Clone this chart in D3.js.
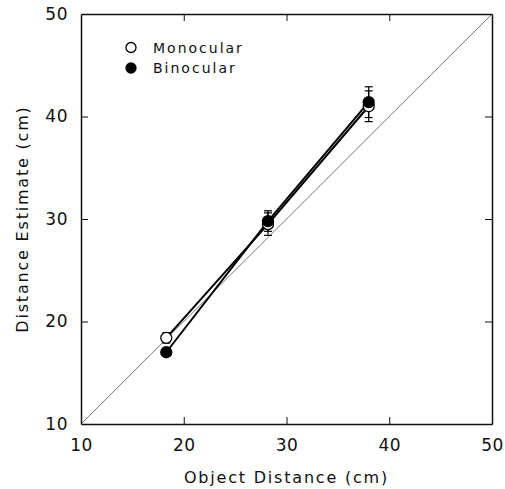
<!DOCTYPE html>
<html>
<head>
<meta charset="utf-8">
<script src="https://cdnjs.cloudflare.com/ajax/libs/d3/7.8.5/d3.min.js"></script>
<style>
  body { margin: 0; background: #fff; }
  text { font-family: "DejaVu Sans", sans-serif; fill: #111; }
</style>
</head>
<body>
<div id="chart"></div>
<script>
// values
var objectDistance = [18.3, 28.2, 38.0];
var monocular = [18.4, 29.5, 41.0];
var monocularErr = [0.5, 1.1, 1.5];
var binocular = [17.0, 29.8, 41.4];
var binocularErr = [0.4, 1.0, 1.5];
var ticks = [10, 20, 30, 40, 50];

var width = 505, height = 489;
var margin = {top: 14, right: 13, bottom: 65, left: 81};

var svg = d3.select('#chart')
  .append('svg')
  .attr('width', width)
  .attr('height', height);

var x = d3.scaleLinear().domain([10, 50]).range([margin.left, width - margin.right]);
var y = d3.scaleLinear().domain([10, 50]).range([height - margin.bottom, margin.top]);

// identity line
svg.append('line')
  .attr('x1', x(10)).attr('y1', y(10))
  .attr('x2', x(50)).attr('y2', y(50))
  .attr('stroke', '#777')
  .attr('stroke-width', 1);

// frame with inward ticks on every side
var tickLen = 7;
var axes = [
  {axis: d3.axisBottom(x), t: 'translate(0,' + y(10) + ')', labels: true, pad: 15},
  {axis: d3.axisTop(x), t: 'translate(0,' + y(50) + ')', labels: false, pad: 12},
  {axis: d3.axisLeft(y), t: 'translate(' + x(10) + ',0)', labels: true, pad: 13},
  {axis: d3.axisRight(y), t: 'translate(' + x(50) + ',0)', labels: false, pad: 12}
];
axes.forEach(function(a) {
  var g = svg.append('g')
    .attr('transform', a.t)
    .call(a.axis.tickValues(ticks).tickSizeInner(-tickLen).tickSizeOuter(0).tickPadding(a.pad));
  g.select('.domain').attr('stroke', '#111').attr('stroke-width', 1.5);
  g.selectAll('.tick line').attr('stroke', '#111').attr('stroke-width', 1);
  g.selectAll('.tick text')
    .style('font-size', '17px')
    .style('font-family', '"DejaVu Sans", sans-serif')
    .style('letter-spacing', '0.5px')
    .attr('fill', '#111');
  if (!a.labels) g.selectAll('.tick text').remove();
});
// end ticks are hidden by the frame
svg.selectAll('.tick line').filter(function(d) { return d === 10 || d === 50; }).remove();

// axis titles
svg.append('text')
  .attr('x', (x(10) + x(50)) / 2)
  .attr('y', 483)
  .attr('text-anchor', 'middle')
  .style('font-size', '16px')
  .style('letter-spacing', '1.8px')
  .text('Object Distance (cm)');

svg.append('text')
  .attr('transform', 'translate(28,' + (y(10) + y(50)) / 2 + ') rotate(-90)')
  .attr('text-anchor', 'middle')
  .style('font-size', '16px')
  .style('letter-spacing', '1.8px')
  .text('Distance Estimate (cm)');

var series = [
  {name: 'Monocular', values: monocular, err: monocularErr, fill: '#fff'},
  {name: 'Binocular', values: binocular, err: binocularErr, fill: '#000'}
];

var line = d3.line()
  .x(function(d) { return x(d[0]); })
  .y(function(d) { return y(d[1]); });

series.forEach(function(s) {
  svg.append('path')
    .datum(objectDistance.map(function(d, i) { return [d, s.values[i]]; }))
    .attr('d', line)
    .attr('fill', 'none')
    .attr('stroke', '#000')
    .attr('stroke-width', 2);
});

// error bars
var cap = 4;
series.forEach(function(s) {
  var g = svg.append('g').attr('stroke', '#000').attr('stroke-width', 1.2);
  objectDistance.forEach(function(d, i) {
    var lo = y(s.values[i] - s.err[i]), hi = y(s.values[i] + s.err[i]);
    g.append('line').attr('x1', x(d)).attr('x2', x(d)).attr('y1', lo).attr('y2', hi);
    g.append('line').attr('x1', x(d) - cap).attr('x2', x(d) + cap).attr('y1', lo).attr('y2', lo);
    g.append('line').attr('x1', x(d) - cap).attr('x2', x(d) + cap).attr('y1', hi).attr('y2', hi);
  });
});

// markers
series.forEach(function(s) {
  svg.selectAll(null)
    .data(objectDistance)
    .enter()
    .append('circle')
    .attr('cx', function(d) { return x(d); })
    .attr('cy', function(d, i) { return y(s.values[i]); })
    .attr('r', 5.5)
    .attr('fill', s.fill)
    .attr('stroke', '#000')
    .attr('stroke-width', 1.3);
});

// legend
var legend = svg.selectAll('.legend')
  .data(series)
  .enter()
  .append('g')
  .attr('class', 'legend')
  .attr('transform', function(d, i) { return 'translate(131,' + (47.5 + i * 20.5) + ')'; });
legend.append('circle')
  .attr('r', 5)
  .attr('fill', function(d) { return d.fill; })
  .attr('stroke', '#000')
  .attr('stroke-width', 1.3);
legend.append('text')
  .attr('x', 22)
  .attr('y', 5)
  .style('font-size', '14px')
  .style('letter-spacing', '2px')
  .text(function(d) { return d.name; });
</script>
</body>
</html>
